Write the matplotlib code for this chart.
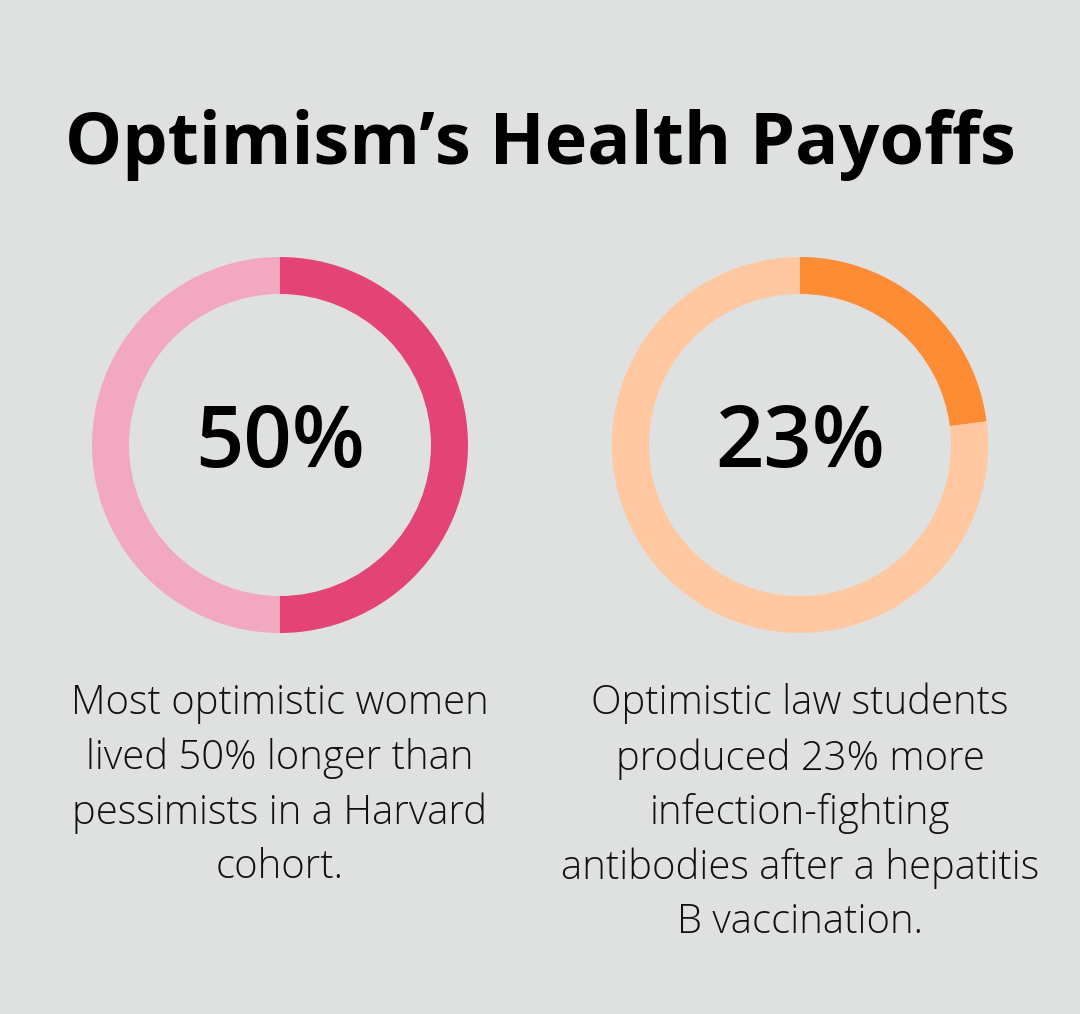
import matplotlib.pyplot as plt

title = "Optimism\u2019s Health Payoffs"
labels = ["50%", "23%"]
values = [50, 23]
captions = [
    "Most optimistic women\nlived 50% longer than\npessimists in a Harvard\ncohort.",
    "Optimistic law students\nproduced 23% more\ninfection-fighting\nantibodies after a hepatitis\nB vaccination.",
]
dark = ["#E34475", "#FE8C34"]
light = ["#F2A8C0", "#FFC8A0"]

W, H = 1080, 1014
bg = "#DFE1E0"

fig = plt.figure(figsize=(W / 100, H / 100), dpi=100, facecolor=bg)
ax = fig.add_axes([0, 0, 1, 1])
ax.set_facecolor(bg)

centers_x = [280, 800]
cy = H - 445
for i in range(2):
    ax.pie([values[i], 100 - values[i]], radius=188, center=(centers_x[i], cy),
           startangle=90, counterclock=False, colors=[dark[i], light[i]],
           wedgeprops=dict(width=37, linewidth=0))
    ax.text(centers_x[i], cy, labels[i], ha="center", va="center",
            fontsize=61, family="Open Sans", fontweight="semibold", color="black")
    ax.text(centers_x[i], H - 683, captions[i], ha="center", va="top",
            fontsize=28.8, family="Open Sans", fontweight="light", color="#111111",
            linespacing=1.43)

ax.text(W / 2, H - 145, title, ha="center", va="center", fontsize=51.8,
        family="Open Sans", fontweight="bold", color="black")

ax.set_xlim(0, W)
ax.set_ylim(0, H)
ax.set_aspect("auto")
ax.axis("off")

fig.savefig("out.png", dpi=100, facecolor=bg)
